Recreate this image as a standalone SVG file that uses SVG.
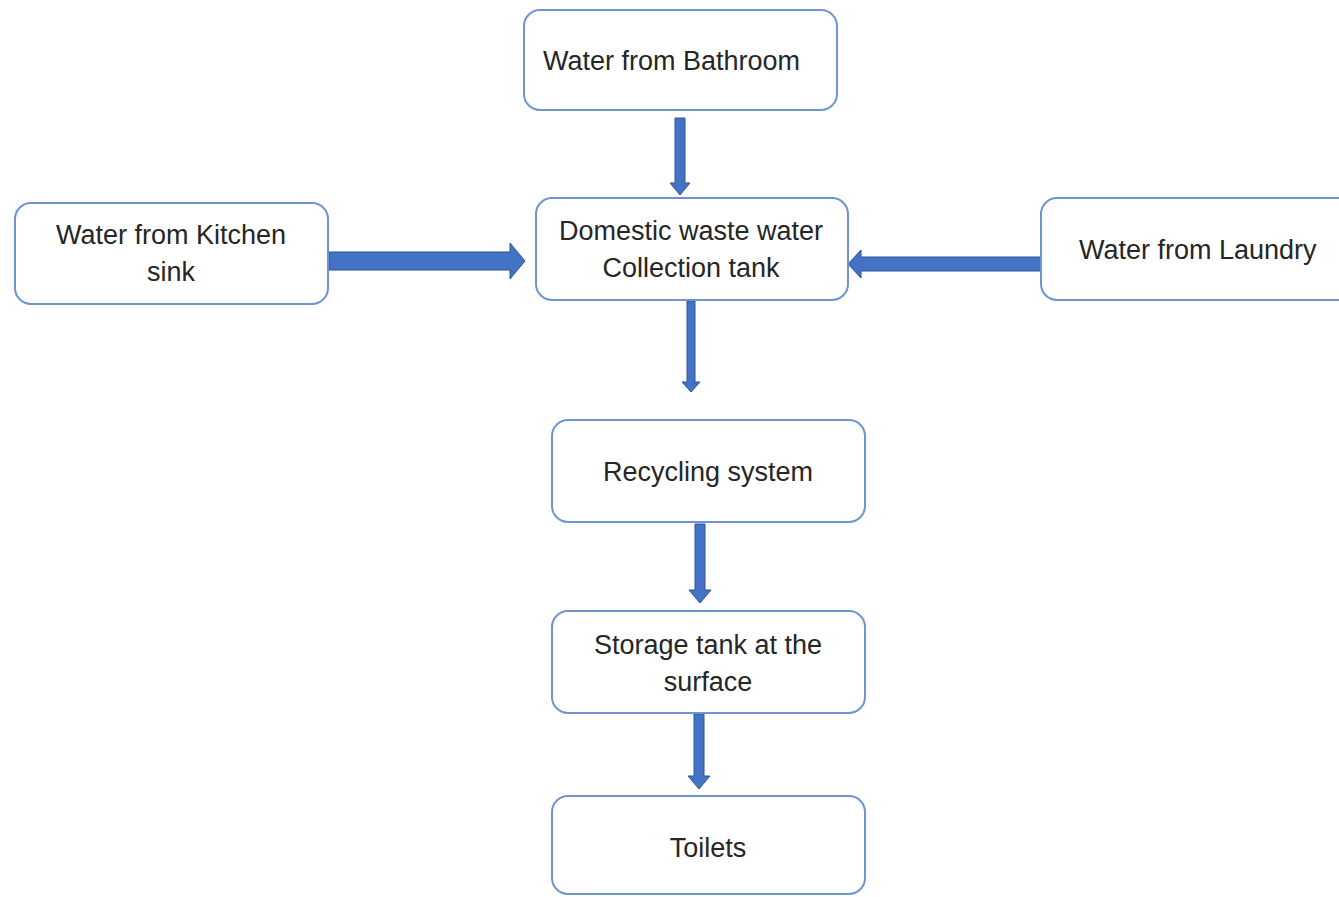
<svg xmlns="http://www.w3.org/2000/svg" width="1339" height="897" viewBox="0 0 1339 897">
<defs>
<style>
.box{fill:#ffffff;stroke:#7094d2;stroke-width:2}
.t{font-family:"Liberation Sans",Arial,sans-serif;font-size:27px;fill:#262626}
.c{text-anchor:middle}
.arr{fill:#4472c4;stroke:#2f5597;stroke-width:1}
</style>
</defs>
<rect width="1339" height="897" fill="#ffffff"/>
<g id="connectors">
<path class="arr" d="M675,118 L685,118 L685,183 L690,183 L680,195 L670,183 L675,183 Z"/>
<path class="arr" d="M329,252 L510,252 L510,243 L525,261 L510,279 L510,270 L329,270 Z"/>
<path class="arr" d="M1041,257 L861,257 L861,250 L848,264 L861,278 L861,271 L1041,271 Z"/>
<path class="arr" d="M687,301 L695,301 L695,382 L700,382 L691,392 L682,382 L687,382 Z"/>
<path class="arr" d="M695,524 L705,524 L705,590 L711,590 L700,603 L689,590 L695,590 Z"/>
<path class="arr" d="M694,714 L704,714 L704,776 L710,776 L699,789 L688,776 L694,776 Z"/>
</g>
<g id="bathroom">
<rect class="box" x="524" y="10" width="313" height="100" rx="16"/>
<text class="t" x="543" y="70">Water from Bathroom</text>
</g>
<g id="kitchen">
<rect class="box" x="15" y="203" width="313" height="101" rx="16"/>
<text class="t c" x="171" y="244">Water from Kitchen</text>
<text class="t c" x="171" y="281">sink</text>
</g>
<g id="collection">
<rect class="box" x="536" y="198" width="312" height="102" rx="16"/>
<text class="t c" x="691" y="240">Domestic waste water</text>
<text class="t c" x="691" y="277">Collection tank</text>
</g>
<g id="laundry">
<rect class="box" x="1041" y="198" width="320" height="102" rx="16"/>
<text class="t" x="1079" y="259">Water from Laundry</text>
</g>
<g id="recycling">
<rect class="box" x="552" y="420" width="313" height="102" rx="16"/>
<text class="t c" x="708" y="481">Recycling system</text>
</g>
<g id="storage">
<rect class="box" x="552" y="611" width="313" height="102" rx="16"/>
<text class="t c" x="708" y="654">Storage tank at the</text>
<text class="t c" x="708" y="691">surface</text>
</g>
<g id="toilets">
<rect class="box" x="552" y="796" width="313" height="98" rx="16"/>
<text class="t c" x="708" y="857">Toilets</text>
</g>
</svg>
